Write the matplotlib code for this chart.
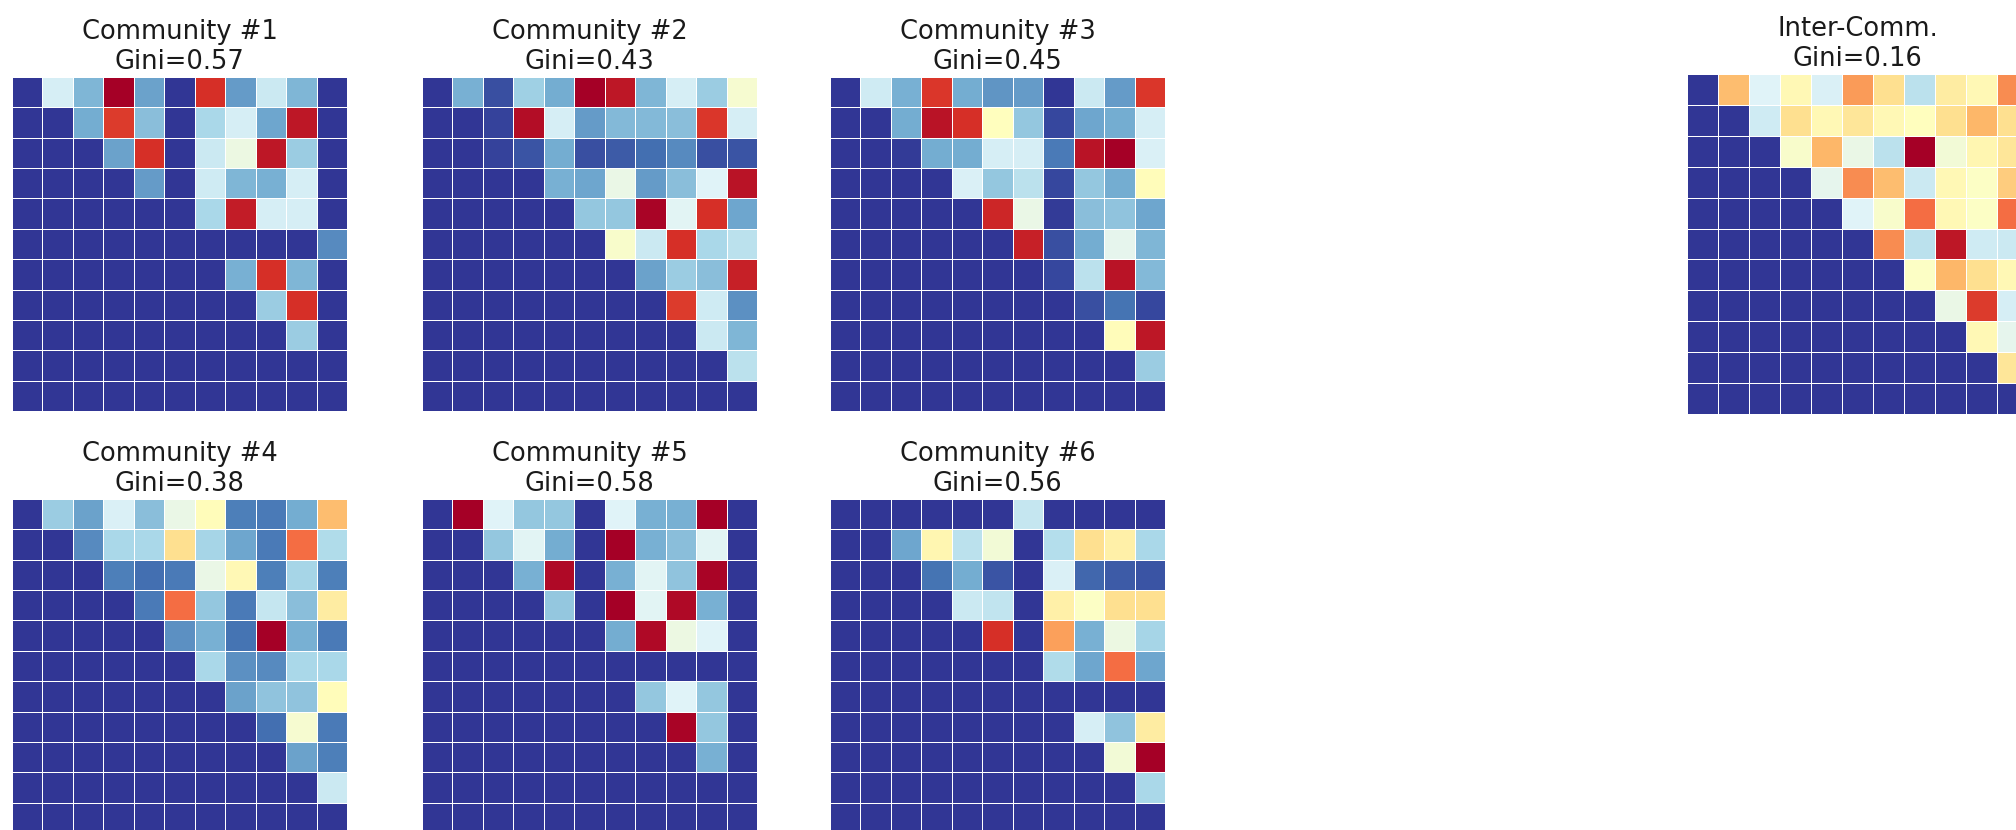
"""Per-community interaction heatmaps with Gini coefficients."""

import numpy as np
import matplotlib
matplotlib.use("Agg")
import matplotlib.pyplot as plt

# ---- data (colour scale position 0..1, upper triangular) ----
comm1 = [
    [0, 0.38, 0.22, 1.00, 0.18, 0, 0.90, 0.17, 0.36, 0.22, 0],
    [0, 0, 0.20, 0.88, 0.24, 0, 0.30, 0.38, 0.19, 0.95, 0],
    [0, 0, 0, 0.18, 0.90, 0, 0.36, 0.44, 0.95, 0.27, 0],
    [0, 0, 0, 0, 0.17, 0, 0.37, 0.22, 0.21, 0.38, 0],
    [0, 0, 0, 0, 0, 0, 0.30, 0.94, 0.38, 0.38, 0],
    [0, 0, 0, 0, 0, 0, 0, 0, 0, 0, 0.14],
    [0, 0, 0, 0, 0, 0, 0, 0.21, 0.90, 0.22, 0],
    [0, 0, 0, 0, 0, 0, 0, 0, 0.27, 0.90, 0],
    [0, 0, 0, 0, 0, 0, 0, 0, 0, 0.27, 0],
    [0, 0, 0, 0, 0, 0, 0, 0, 0, 0, 0],
    [0, 0, 0, 0, 0, 0, 0, 0, 0, 0, 0],
]
comm2 = [
    [0, 0.21, 0.04, 0.28, 0.20, 1.00, 0.95, 0.22, 0.38, 0.27, 0.47],
    [0, 0, 0.02, 0.97, 0.38, 0.17, 0.23, 0.23, 0.24, 0.89, 0.38],
    [0, 0, 0.02, 0.05, 0.20, 0.04, 0.06, 0.09, 0.14, 0.04, 0.05],
    [0, 0, 0, 0, 0.21, 0.19, 0.43, 0.17, 0.24, 0.40, 0.96],
    [0, 0, 0, 0, 0, 0.26, 0.26, 0.99, 0.41, 0.90, 0.19],
    [0, 0, 0, 0, 0, 0, 0.48, 0.36, 0.90, 0.30, 0.33],
    [0, 0, 0, 0, 0, 0, 0, 0.18, 0.27, 0.24, 0.93],
    [0, 0, 0, 0, 0, 0, 0, 0, 0.88, 0.37, 0.15],
    [0, 0, 0, 0, 0, 0, 0, 0, 0, 0.36, 0.22],
    [0, 0, 0, 0, 0, 0, 0, 0, 0, 0, 0.33],
    [0, 0, 0, 0, 0, 0, 0, 0, 0, 0, 0],
]
comm3 = [
    [0, 0.37, 0.21, 0.89, 0.20, 0.16, 0.17, 0, 0.36, 0.17, 0.89],
    [0, 0, 0.20, 0.96, 0.90, 0.50, 0.26, 0.03, 0.19, 0.20, 0.38],
    [0, 0, 0.01, 0.20, 0.20, 0.38, 0.38, 0.11, 0.96, 1.00, 0.39],
    [0, 0, 0, 0, 0.39, 0.26, 0.33, 0.03, 0.26, 0.20, 0.51],
    [0, 0, 0, 0, 0, 0.92, 0.43, 0.01, 0.24, 0.25, 0.19],
    [0, 0, 0, 0, 0, 0, 0.93, 0.04, 0.20, 0.42, 0.22],
    [0, 0, 0, 0, 0, 0, 0, 0.03, 0.33, 0.96, 0.23],
    [0, 0, 0, 0, 0, 0, 0, 0, 0.04, 0.10, 0.03],
    [0, 0, 0, 0, 0, 0, 0, 0, 0, 0.51, 0.95],
    [0, 0, 0, 0, 0, 0, 0, 0, 0, 0, 0.27],
    [0, 0, 0, 0, 0, 0, 0, 0, 0, 0, 0],
]
comm4 = [
    [0, 0.27, 0.18, 0.39, 0.24, 0.43, 0.51, 0.12, 0.11, 0.20, 0.67],
    [0, 0, 0.14, 0.30, 0.30, 0.60, 0.29, 0.19, 0.11, 0.80, 0.31],
    [0, 0, 0, 0.12, 0.09, 0.11, 0.43, 0.52, 0.12, 0.29, 0.12],
    [0, 0, 0, 0, 0.11, 0.80, 0.26, 0.11, 0.35, 0.24, 0.56],
    [0, 0, 0, 0, 0, 0.15, 0.21, 0.10, 1.00, 0.21, 0.11],
    [0, 0, 0, 0, 0, 0, 0.30, 0.15, 0.14, 0.30, 0.30],
    [0, 0, 0, 0, 0, 0, 0, 0.18, 0.25, 0.25, 0.51],
    [0, 0, 0, 0, 0, 0, 0, 0, 0.09, 0.47, 0.11],
    [0, 0, 0, 0, 0, 0, 0, 0, 0, 0.18, 0.12],
    [0, 0, 0, 0, 0, 0, 0, 0, 0, 0, 0.36],
    [0, 0, 0, 0, 0, 0, 0, 0, 0, 0, 0],
]
comm5 = [
    [0, 1.00, 0.40, 0.26, 0.26, 0, 0.40, 0.21, 0.21, 1.00, 0],
    [0, 0, 0.26, 0.41, 0.20, 0, 1.00, 0.21, 0.24, 0.41, 0],
    [0, 0, 0, 0.21, 0.98, 0, 0.21, 0.41, 0.25, 0.99, 0],
    [0, 0, 0, 0, 0.26, 0, 1.00, 0.41, 0.98, 0.21, 0],
    [0, 0, 0, 0, 0, 0, 0.20, 0.98, 0.44, 0.40, 0],
    [0, 0, 0, 0, 0, 0, 0, 0, 0, 0, 0],
    [0, 0, 0, 0, 0, 0, 0, 0.26, 0.40, 0.26, 0],
    [0, 0, 0, 0, 0, 0, 0, 0, 0.99, 0.26, 0],
    [0, 0, 0, 0, 0, 0, 0, 0, 0, 0.21, 0],
    [0, 0, 0, 0, 0, 0, 0, 0, 0, 0, 0],
    [0, 0, 0, 0, 0, 0, 0, 0, 0, 0, 0],
]
comm6 = [
    [0, 0, 0, 0, 0, 0, 0.35, 0, 0, 0, 0],
    [0, 0, 0.19, 0.53, 0.33, 0.46, 0, 0.32, 0.60, 0.55, 0.30],
    [0, 0, 0, 0.10, 0.20, 0.05, 0, 0.39, 0.08, 0.06, 0.05],
    [0, 0, 0, 0, 0.36, 0.34, 0, 0.55, 0.49, 0.60, 0.60],
    [0, 0, 0, 0, 0, 0.90, 0, 0.72, 0.21, 0.44, 0.29],
    [0, 0, 0, 0, 0, 0, 0, 0.31, 0.19, 0.80, 0.19],
    [0, 0, 0, 0, 0, 0, 0, 0, 0, 0, 0],
    [0, 0, 0, 0, 0, 0, 0, 0, 0.38, 0.25, 0.56],
    [0, 0, 0, 0, 0, 0, 0, 0, 0, 0.46, 1.00],
    [0, 0, 0, 0, 0, 0, 0, 0, 0, 0, 0.30],
    [0, 0, 0, 0, 0, 0, 0, 0, 0, 0, 0],
]
inter_comm = [
    [0, 0.67, 0.40, 0.52, 0.39, 0.73, 0.60, 0.33, 0.56, 0.52, 0.75],
    [0, 0, 0.37, 0.60, 0.52, 0.58, 0.52, 0.50, 0.60, 0.68, 0.60],
    [0, 0, 0, 0.48, 0.68, 0.43, 0.33, 1.00, 0.46, 0.53, 0.58],
    [0, 0, 0, 0, 0.42, 0.75, 0.67, 0.36, 0.52, 0.49, 0.64],
    [0, 0, 0, 0, 0, 0.40, 0.48, 0.80, 0.52, 0.49, 0.80],
    [0, 0, 0, 0, 0, 0, 0.75, 0.33, 0.95, 0.37, 0.36],
    [0, 0, 0, 0, 0, 0, 0, 0.49, 0.68, 0.60, 0.52],
    [0, 0, 0, 0, 0, 0, 0, 0, 0.43, 0.88, 0.38],
    [0, 0, 0, 0, 0, 0, 0, 0, 0, 0.52, 0.42],
    [0, 0, 0, 0, 0, 0, 0, 0, 0, 0, 0.58],
    [0, 0, 0, 0, 0, 0, 0, 0, 0, 0, 0],
]

titles = ["Community #1", "Community #2", "Community #3",
          "Community #4", "Community #5", "Community #6", "Inter-Comm."]
gini = [0.57, 0.43, 0.45, 0.38, 0.58, 0.56, 0.16]
matrices = [comm1, comm2, comm3, comm4, comm5, comm6, inter_comm]

# axes placement in pixels: (left, top, width, height) on a 2016x830 canvas
W, H = 2016, 830
boxes = [
    (12, 77, 335, 334), (422, 77, 335, 334), (830, 77, 335, 334),
    (12, 499, 335, 334), (422, 499, 335, 334), (830, 499, 335, 334),
    (1687, 74, 341, 340),
]

fig = plt.figure(figsize=(W / 100, H / 100), dpi=100)

for mat, title, g, (l, t, w, h) in zip(matrices, titles, gini, boxes):
    ax = fig.add_axes([l / W, (H - t - h) / H, w / W, h / H])
    ax.pcolormesh(np.array(mat), cmap="RdYlBu_r", vmin=0, vmax=1,
                  edgecolors="white", linewidth=0.5)
    ax.set_xlim(0, 11)
    ax.set_ylim(11, 0)
    ax.set_title(f"{title}\nGini={g:.2f}", fontsize=18.5, color="#1a1a1a")
    ax.axis("off")

plt.savefig("out.png", dpi=100)
plt.close()
print("Saved: out.png")
